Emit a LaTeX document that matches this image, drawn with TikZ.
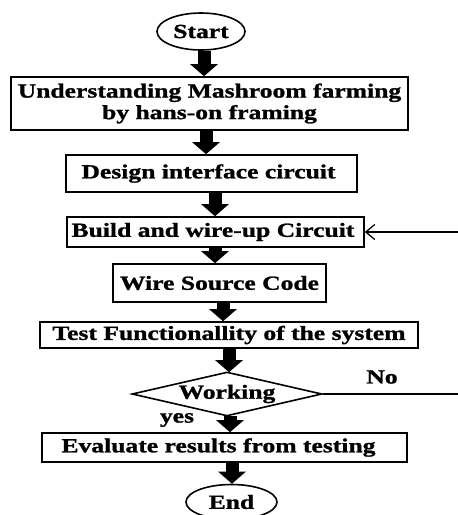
\documentclass[tikz,border=0pt]{standalone}
\usepackage{fontspec}
\setmainfont{Liberation Serif}[FakeStretch=1.28,BoldFeatures={FakeBold=1.2}]
\usetikzlibrary{shapes.geometric,arrows.meta}
\tikzset{
  box/.style={draw, line width=1.6pt, rectangle, inner sep=0pt, align=center},
  term/.style={draw, line width=1.6pt, ellipse, inner sep=0pt},
  decision/.style={draw, line width=1.6pt, diamond, inner sep=0pt, aspect=4.3},
  blockarrow/.style={line width=13pt, -{Triangle[length=12pt,width=27pt]}},
  thinline/.style={line width=1.3pt},
  lbl/.style={inner sep=0pt}
}
\begin{document}
\begin{tikzpicture}[x=1pt,y=-1pt,font=\fontsize{20}{21.5}\selectfont\bfseries]
\useasboundingbox (0,0) rectangle (458,515);
\node[term, minimum width=88pt, minimum height=37pt] (start) at (201,31.5) {Start};
\node[box, minimum width=397pt, minimum height=53pt] (b1) at (209.5,103.5) {Understanding Mashroom farming\\by hans-on framing};
\node[box, minimum width=291pt, minimum height=37pt] (b2) at (211.5,173.5) {Design interface circuit\hspace{6pt}};
\node[box, minimum width=297pt, minimum height=30pt] (b3) at (215.5,232) {Build and wire-up Circuit\hspace{5pt}};
\node[box, minimum width=213pt, minimum height=38pt] (b4) at (219.5,283) {Wire Source Code};
\node[box, minimum width=378pt, minimum height=26pt] (b5) at (229,335) {Test Functionallity of the system};
\node[decision, minimum width=190pt, minimum height=44pt] (dec) at (227,394) {Working};
\node[box, minimum width=365pt, minimum height=29pt] (b6) at (224.5,447.5) {Evaluate results from testing\hspace{12pt}};
\node[term, minimum width=91pt, minimum height=35pt] (end) at (231.5,502) {End};
\node[lbl] (no) at (382,377) {No};
\node[lbl] (yes) at (177,420) {yes};
\coordinate (fbA) at (472,394);
\coordinate (fbB) at (472,232);
\draw[blockarrow] (start.south -| 204,0) -- (b1.north -| 204,0);
\draw[blockarrow] (b1.south -| 206,0) -- (b2.north -| 206,0);
\draw[blockarrow] (b2.south -| 215,0) -- (b3.north -| 215,0);
\draw[blockarrow] (b3.south -| 215,0) -- (b4.north -| 215,0);
\draw[blockarrow] (b4.south -| 223,0) -- (b5.north -| 223,0);
\draw[blockarrow] (b5.south -| 229,0) -- ([yshift=-1pt]dec.north -| 229,0);
\draw[blockarrow] ([yshift=1pt]dec.south -| 230,0) -- (b6.north -| 230,0);
\draw[blockarrow] (b6.south -| 232,0) -- (end.north -| 232,0);
\draw[thinline, -{Straight Barb[length=9pt,width=15pt]}] (dec.east) -- (fbA) -- (fbB) -- (b3.east);
\end{tikzpicture}
\end{document}
